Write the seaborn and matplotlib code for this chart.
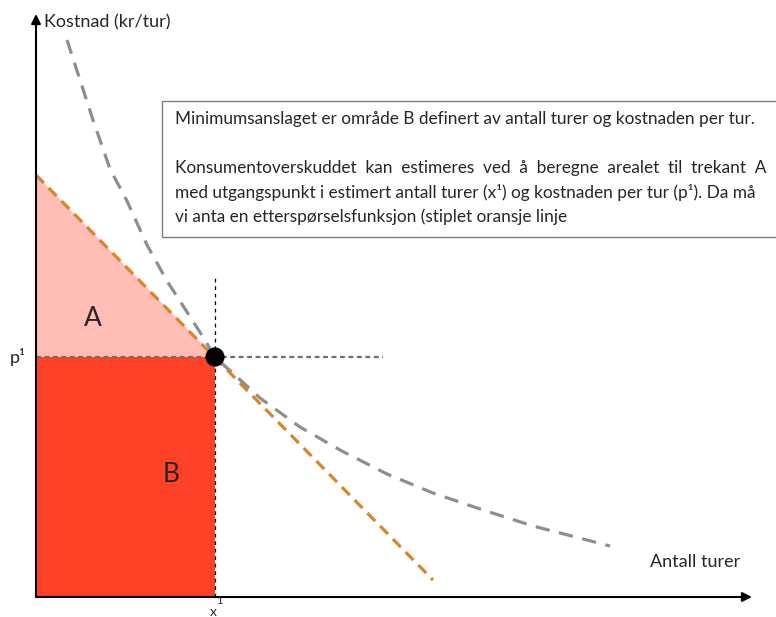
import matplotlib
matplotlib.use("Agg")
import matplotlib.pyplot as plt
import seaborn as sns
import pandas as pd
from matplotlib.patches import Rectangle, Polygon

# ── Data (in plot units) ──────────────────────────────────────────────────────
x1 = 179
p1 = 240

# estimated linear demand curve (orange dashed)
demand_x = [0, 397]
demand_y = [422, 17]

# grey dashed curve
curve_x = [31, 57, 74, 91, 111, 131, 151, 167, 179, 224, 264, 304, 351, 397, 444, 497, 574]
curve_y = [557, 477, 428, 396, 352, 316, 285, 260, 240, 199, 170, 147, 123, 104, 88, 71, 51]

area_labels = ["A", "B"]
box_lines = [
    "Minimumsanslaget er område B definert av antall turer og kostnaden per tur.",
    "",
    "Konsumentoverskuddet  kan  estimeres  ved  å  beregne  arealet  til  trekant  A",
    "med utgangspunkt i estimert antall turer (x\u00b9) og kostnaden per tur (p\u00b9). Da må",
    "vi anta en etterspørselsfunksjon (stiplet oransje linje",
]

ORANGE = "#DD8524"
GREY = "#8E8E8E"
PINK = "#FFBDB6"
RED = "#FF4128"

sns.set_style("white")
plt.rcParams["font.family"] = ["Lato", "DejaVu Sans"]

fig = plt.figure(figsize=(7.76, 6.17), dpi=100)
ax = fig.add_axes([0, 0, 1, 1])
ax.set_xlim(-36, 740)
ax.set_ylim(-20, 597)
ax.axis("off")

# areas A (triangle) and B (rectangle)
ax.add_patch(Polygon([(0, demand_y[0]), (x1, p1), (0, p1)], closed=True,
                     facecolor=PINK, edgecolor="none", zorder=1))
ax.add_patch(Rectangle((0, 0), x1, p1, facecolor=RED, edgecolor="none", zorder=1))

# guide lines through (x1, p1)
ax.plot([0, 347], [p1, p1], color="#6E6E6E", lw=1.6, linestyle=(0, (2.2, 1.6)), zorder=2)
ax.plot([x1, x1], [0, 322], color="black", lw=0.9, linestyle=(0, (3, 3)), zorder=2)

# curves
df_demand = pd.DataFrame({"x": demand_x, "y": demand_y})
df_curve = pd.DataFrame({"x": curve_x, "y": curve_y})
sns.lineplot(data=df_curve, x="x", y="y", ax=ax, sort=False, color=GREY,
             lw=2.3, linestyle=(0, (4.5, 3)), zorder=3)
sns.lineplot(data=df_demand, x="x", y="y", ax=ax, sort=False, color=ORANGE,
             lw=2.3, linestyle=(0, (3.5, 2.2)), zorder=3)

# point (x1, p1)
sns.scatterplot(x=[x1], y=[p1], ax=ax, s=190, color="black", edgecolor="none", zorder=4)

# axes arrows
ax.annotate("", xy=(0, 583), xytext=(0, 0),
            arrowprops=dict(arrowstyle="-|>", color="black", lw=1.5,
                            mutation_scale=14, shrinkA=0, shrinkB=0))
ax.annotate("", xy=(716, 0), xytext=(0, 0),
            arrowprops=dict(arrowstyle="-|>", color="black", lw=1.5,
                            mutation_scale=14, shrinkA=0, shrinkB=0))

# labels
ax.text(8, 575, "Kostnad (kr/tur)", fontsize=13, va="center", ha="left")
ax.text(704, 35, "Antall turer", fontsize=13, va="center", ha="right")
ax.text(-26, p1, "p\u00b9", fontsize=13, va="center", ha="left")
ax.text(x1 - 2, -15, "x", fontsize=10, va="center", ha="center")
ax.text(x1 + 4, -3, "1", fontsize=8, va="center", ha="center")
ax.text(57, 279, area_labels[0], fontsize=19, va="center", ha="center")
ax.text(135, 122, area_labels[1], fontsize=19, va="center", ha="center")

# text box
ax.add_patch(Rectangle((126, 360), 700, 136, facecolor="white", edgecolor="#7F7F7F",
                       lw=1, zorder=5, clip_on=False))
for i, line in enumerate(box_lines):
    ax.text(139, 478 - i * 24.5, line, fontsize=12.4, va="center", ha="left", zorder=6)

fig.savefig("out.png", dpi=100)
